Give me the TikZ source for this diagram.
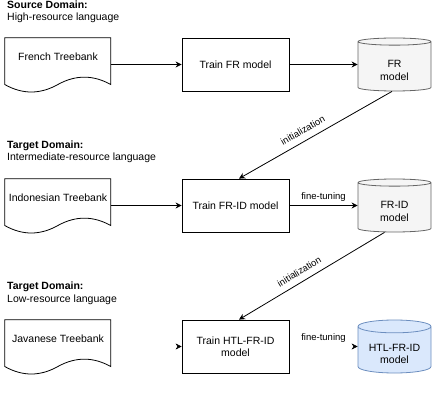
\documentclass[tikz,border=0pt]{standalone}
\usepackage{fontspec}
\setmainfont{Liberation Sans}
\usepackage{xcolor}
\usetikzlibrary{shapes.geometric,arrows.meta}

\definecolor{grayline}{HTML}{666666}
\definecolor{grayfill}{HTML}{F5F5F5}
\definecolor{blueline}{HTML}{6C8EBF}
\definecolor{bluefill}{HTML}{DAE8FC}

\tikzset{
	every node/.style={font=\fontsize{10.5}{12.5}\selectfont},
	>={Stealth[length=6pt,width=6pt]},
	heading/.style={anchor=west, align=left, inner sep=0pt},
	trainbox/.style={draw, line width=0.8pt, minimum width=107pt, minimum height=53pt, inner sep=1pt, align=center},
	treebank/.style={minimum width=106pt, minimum height=38pt, inner sep=0pt},
	model/.style 2 args={cylinder, shape border rotate=90, aspect=0.25, draw=#1, fill=#2, line width=0.8pt,
		minimum width=73pt, minimum height=53pt, inner sep=0pt, anchor=shape center},
	lbl/.style={font=\fontsize{9.5}{11}\selectfont},
	ghost/.style={draw=white, shorten <=1pt, -{Stealth[length=6pt,width=6pt,color=black]}}
}

% two lines of model text, set a bit below the middle
\newcommand{\modeltext}[1]{\raisebox{-5pt}[\height][\depth]{\begin{tabular}{@{}c@{}}#1\end{tabular}}}

% outline of a document below a treebank node
\newcommand{\treebankshape}[1]{%
	\begin{scope}[shift={(#1.north west)}]
		\draw[line width=0.8pt] (0,0) -- (106,0) -- (106,46.75)
			.. controls (88.3,36.9) and (70.7,36.9) .. (53,46.75)
			.. controls (35.3,56.7) and (17.7,56.7) .. (0,46.75) -- cycle;
	\end{scope}}

\begin{document}
\begin{tikzpicture}[x=1pt,y=-1pt]
	\useasboundingbox (0,0) rectangle (434,406);

	% Headings
	\node[heading] (src) at (7,12) {\textbf{Source Domain:}\\High-resource language};
	\node[heading] (mid) at (7,152) {\textbf{Target Domain:}\\Intermediate-resource language};
	\node[heading] (low) at (7,293.5) {\textbf{Target Domain:}\\Low-resource language};

	% Treebanks
	\node[treebank] (doc1) at (58,57) {French Treebank};
	\node[treebank] (doc2) at (58,198) {Indonesian Treebank};
	\node[treebank] (doc3) at (58,339) {Javanese Treebank};
	\treebankshape{doc1}
	\treebankshape{doc2}
	\treebankshape{doc3}

	% Training steps
	\node[trainbox] (train1) at (235.5,64.5) {Train FR model};
	\node[trainbox] (train2) at (235.5,205.5) {Train FR-ID model};
	\node[trainbox] (train3) at (235.5,346.5) {Train HTL-FR-ID\\model};

	% Models
	\node[model={grayline}{grayfill}] (cyl1) at (394.5,64.5) {\modeltext{FR\\model}};
	\node[model={grayline}{grayfill}] (cyl2) at (394.5,205.5) {\modeltext{FR-ID\\model}};
	\node[model={blueline}{bluefill}] (cyl3) at (394.5,346.5) {\modeltext{HTL-FR-ID\\model}};

	% Arrows
	\draw[->, line width=0.8pt] (doc1.east |- train1.west) -- (train1.west);
	\draw[->, line width=0.8pt] (train1.east) -- (cyl1.west |- train1.east);
	\draw[->, line width=0.8pt] (doc2.east |- train2.west) -- (train2.west);
	\draw[->, line width=0.8pt] (train2.east) -- node[lbl, above] {fine-tuning} (cyl2.west |- train2.east);
	\draw[ghost] (doc3.east |- train3.west) -- (train3.west);
	\draw[ghost] (train3.east) -- node[lbl, above] {fine-tuning} (cyl3.west |- train3.east);

	% Initialization
	\draw[->, line width=0.8pt] ([xshift=-2.5pt]cyl1.south) -- node[lbl, sloped, above=3pt, pos=0.55] {initialization} ([xshift=3.5pt]train2.north);
	\draw[->, line width=0.8pt] ([xshift=-10pt]cyl2.south) -- node[lbl, sloped, above=3pt, pos=0.55] {initialization} ([xshift=3.5pt]train3.north);
\end{tikzpicture}
\end{document}
